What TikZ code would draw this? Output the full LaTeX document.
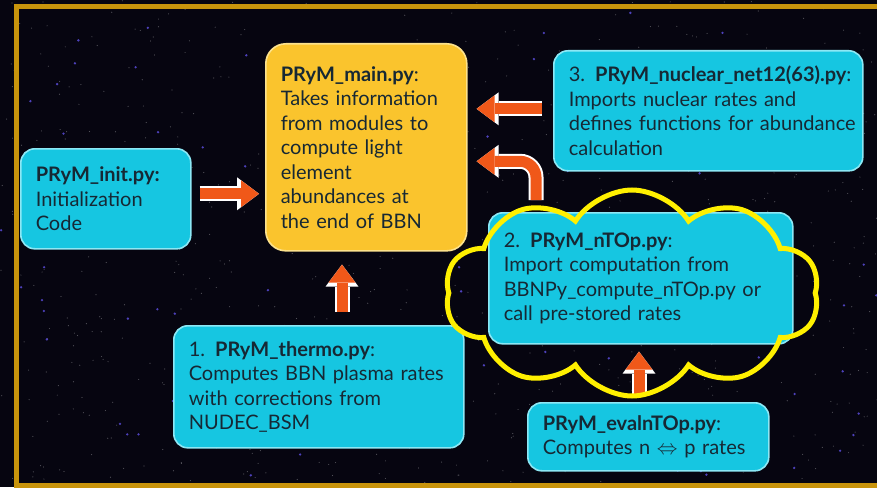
\documentclass[tikz,border=0pt]{standalone}
\usepackage{fontspec}
\setmainfont{Lato}
\usetikzlibrary{arrows.meta, calc, shapes.symbols}

\definecolor{spacebg}{RGB}{6,5,16}
\definecolor{starblue}{RGB}{95,80,230}
\definecolor{framegold}{RGB}{200,148,12}
\definecolor{boxcyan}{RGB}{22,198,225}
\definecolor{edgecyan}{RGB}{140,232,245}
\definecolor{boxyellow}{RGB}{250,196,45}
\definecolor{edgeyellow}{RGB}{252,226,140}
\definecolor{flowred}{RGB}{240,88,25}
\definecolor{cloudyellow}{RGB}{255,240,0}
\definecolor{inkdark}{RGB}{22,40,52}

\tikzset{
  module/.style={draw=edgecyan, fill=boxcyan, line width=1.6pt, rounded corners=14pt,
    anchor=north west, text=inkdark, align=left, inner xsep=15pt,
    font=\fontsize{20}{24.5}\selectfont},
  mainmod/.style={module, draw=edgeyellow, fill=boxyellow, rounded corners=20pt},
  flow/.style={draw=flowred, line width=11pt,
    -{Triangle[width=27pt, length=18pt, line width=0pt]},
    preaction={draw=white, line width=15pt, -{Triangle[width=33pt, length=22pt, line width=0pt]}}}
}

\begin{document}
\begin{tikzpicture}[x=1pt, y=-1pt]
  % sky and frame
  \useasboundingbox (0,0) rectangle (877,487);
  \fill[spacebg] (0,0) rectangle (877,487);
  \pgfmathsetseed{42}
  \foreach \s in {1,...,700}{\fill[white, opacity=0.3] ({877*rnd},{487*rnd}) circle (0.6pt);}
  \foreach \s in {1,...,80}{\fill[starblue, opacity=0.8] ({877*rnd},{487*rnd}) circle (1.3pt);}
  \draw[framegold, line width=5.5pt] (16.5,6.5) rectangle (900,486);
  % modules
  \node[mainmod, minimum width=201pt, minimum height=207pt, text width=171pt] (main) at (265,43)
    {\textbf{PRyM\_main.py}:\\Takes information\\from modules to\\compute light\\element\\abundances at\\the end of BBN};
  \node[module, minimum width=309pt, minimum height=120pt, text width=279pt] (nuclear) at (553,50)
    {\mbox{3. \textbf{PRyM\_nuclear\_net12(63).py}:}\\Imports nuclear rates and\\\mbox{defines functions for abundance}\\calculation};
  \node[module, minimum width=170pt, minimum height=100pt, text width=140pt] (init) at (20,148)
    {\textbf{PRyM\_init.py:}\\Initialization\\Code};
  \node[module, minimum width=304pt, minimum height=131pt, text width=274pt] (ntop) at (488,212)
    {2. \textbf{PRyM\_nTOp.py}:\\Import computation from\\BBNPy\_compute\_nTOp.py or\\call pre-stored rates};
  \node[module, minimum width=290pt, minimum height=122pt, text width=260pt] (thermo) at (173,325)
    {1. \textbf{PRyM\_thermo.py}:\\Computes BBN plasma rates\\with corrections from\\NUDEC\_BSM};
  \node[module, minimum width=241pt, minimum height=68pt, text width=211pt] (evaln) at (527,402)
    {\textbf{PRyM\_evalnTOp.py}:\\Computes n $\Leftrightarrow$ p rates};
  % arrows into main
  \draw[flow] ($(init.east)+(8,-5)$) -- ($(main.west |- init.east)+(-6,-5)$);
  \draw[flow] ($(nuclear.west)+(-11,-2)$) -- ($(main.east |- nuclear.west)+(9,-2)$);
  \coordinate (bendtip) at ($(main.east)+(9,14)$);
  \draw[flow, rounded corners=16pt] ($(ntop.north west)+(48,-12)$) |- (bendtip);
  \draw[flow] ($(thermo.north west)+(169,-13)$) -- ($(main.south west)+(77,13)$);
  \draw[flow] ($(evaln.north west)+(112,-8)$) -- ($(ntop.south west)+(151,7)$);
  % highlight
  \node[cloud, cloud puffs=10, cloud puff arc=115, aspect=1.9, draw=cloudyellow, line width=5pt,
    minimum width=374pt, minimum height=206pt] (bubble) at (632,293) {};
\end{tikzpicture}
\end{document}
